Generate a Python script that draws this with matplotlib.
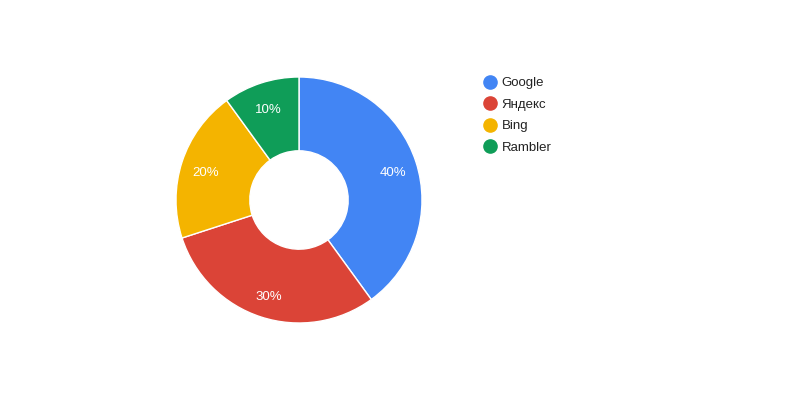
import matplotlib
matplotlib.use("Agg")
import matplotlib.pyplot as plt
from matplotlib.lines import Line2D

plt.rcParams['font.family'] = ['Liberation Sans', 'DejaVu Sans']

labels = ["Google", "Яндекс", "Bing", "Rambler"]
values = [40, 30, 20, 10]
colors = ["#4285f4", "#db4437", "#f4b400", "#0f9d58"]

W, H = 800, 400
fig = plt.figure(figsize=(8, 4), dpi=100)
cx, cy, R = 299, 200, 123
ax = fig.add_axes([(cx - R) / W, (H - cy - R) / H, 2 * R / W, 2 * R / H])
wedges, texts, autotexts = ax.pie(
    values, colors=colors, startangle=90, counterclock=False,
    autopct='%1.0f%%', pctdistance=0.8,
    wedgeprops=dict(width=0.6, edgecolor='white', linewidth=1),
    textprops=dict(color='white', fontsize=9.5))
for t in autotexts:
    x, y = t.get_position()
    t.set_position((x, y - 0.03))
ax.set_xlim(-1, 1)
ax.set_ylim(-1, 1)
ax.set_aspect('equal')
ax.axis('off')

handles = [Line2D([0], [0], marker='o', linestyle='', markersize=9.5,
                  markerfacecolor=c, markeredgecolor=c) for c in colors]
leg = fig.legend(handles, labels, loc='upper left',
                 bbox_to_anchor=(483 / W, 1 - 77 / H), frameon=False,
                 fontsize=9.5, handlelength=1.0, handletextpad=0.4,
                 labelspacing=0.7, borderaxespad=0, borderpad=0)
for t in leg.get_texts():
    t.set_color('#222222')

fig.savefig("out.png", dpi=100, facecolor='white')
